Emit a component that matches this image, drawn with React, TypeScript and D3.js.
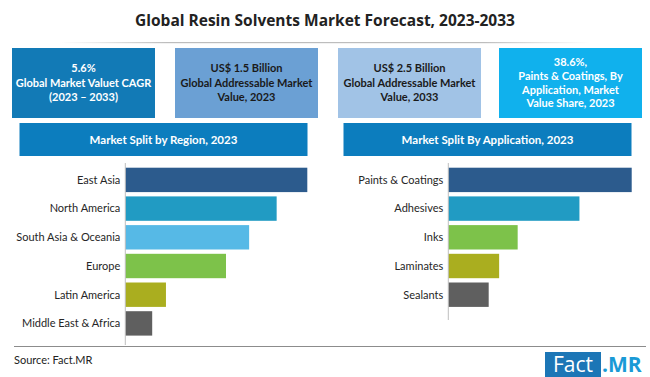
import React from "react";
import * as d3 from "d3";

const regions = ["East Asia", "North America", "South Asia & Oceania", "Europe", "Latin America", "Middle East & Africa"];
const regionValues = [29.1, 24.2, 19.8, 16.1, 6.5, 4.3];
const regionColors = ["#2C5B8D", "#219BC3", "#56B9E6", "#7DC24A", "#AAAE1F", "#5F5F5F"];

const applications = ["Paints & Coatings", "Adhesives", "Inks", "Laminates", "Sealants"];
const applicationValues = [38.6, 27.6, 14.6, 10.7, 8.5];
const applicationColors = ["#2C5B8D", "#219BC3", "#7DC24A", "#AAAE1F", "#5F5F5F"];

const title = "Global Resin Solvents Market Forecast, 2023-2033";
const kpiLines = [
  ["5.6%", "Global Market Valuet CAGR", "(2023 – 2033)"],
  ["US$ 1.5 Billion", "Global Addressable Market", "Value, 2023"],
  ["US$ 2.5 Billion", "Global Addressable Market", "Value, 2033"],
  ["38.6%,", "Paints & Coatings, By", "Application, Market", "Value Share, 2023"],
];
const kpiFill = ["#127AB6", "#6BA0D4", "#A1C3E6", "#10B1ED"];
const kpiText = ["#ffffff", "#1a1a1a", "#1a1a1a", "#ffffff"];
const panelTitles = ["Market Split by Region, 2023", "Market Split By Application, 2023"];

const FONT = "Lato, 'Open Sans', sans-serif";

function BarPanel({ cats, vals, colors, x0, x1, axisBottom }: any) {
  const n = cats.length;
  const step = 28.7;
  const pad = 0.15;
  const top = 163.4;
  const y = d3.scaleBand<string>().domain(cats).range([top, top + step * (n - pad + 2 * pad)]).padding(pad);
  const x = d3.scaleLinear().domain([0, d3.max(vals) as number]).range([x0, x1]);
  return (
    <g>
      {cats.map((c: string, i: number) => (
        <g key={c}>
          <rect x={x(0)} y={y(c)} width={x(vals[i]) - x(0)} height={y.bandwidth()} fill={colors[i]} />
          <text x={x0 - 5} y={(y(c) as number) + y.bandwidth() / 2} dy="0.35em" textAnchor="end" fontSize={11} fill="#262626" fontFamily={FONT}>{c}</text>
        </g>
      ))}
      <line x1={x0} x2={x0} y1={163} y2={axisBottom} stroke="#bfbfbf" strokeWidth={1} />
    </g>
  );
}

export default function App() {
  const boxX = [12, 175, 338, 499];
  const boxW = 143;
  return (
    <svg width={650} height={377} style={{ position: "absolute", left: 0, top: 0, background: "#fff" }}>
      <defs>
        <linearGradient id="sep" x1="0" x2="1" y1="0" y2="0">
          <stop offset="0" stopColor="#c8c8c8" stopOpacity={0} />
          <stop offset="0.2" stopColor="#bdbdbd" />
          <stop offset="0.8" stopColor="#bdbdbd" />
          <stop offset="1" stopColor="#c8c8c8" stopOpacity={0} />
        </linearGradient>
      </defs>
      <rect width={650} height={377} fill="#fff" />
      <text x={325} y={26} textAnchor="middle" fontSize={15.5} fontWeight="bold" fill="#222" fontFamily="'Open Sans', sans-serif">{title}</text>
      <rect x={60} y={42} width={530} height={1.2} fill="url(#sep)" />
      {kpiLines.map((lines, i) => {
        const lh = lines.length > 3 ? 13.7 : 14.5;
        const cy = 83;
        const start = cy - ((lines.length - 1) * lh) / 2;
        return (
          <g key={i}>
            <rect x={boxX[i]} y={48} width={boxW} height={70} fill={kpiFill[i]} />
            {lines.map((l, j) => (
              <text key={j} x={boxX[i] + boxW / 2} y={start + j * lh} dy="0.35em" textAnchor="middle" fontSize={11} fontWeight="bold" fill={kpiText[i]} fontFamily={FONT}>{l}</text>
            ))}
          </g>
        );
      })}
      <rect x={19.5} y={123} width={288} height={33} fill="#0C7DBE" />
      <text x={163.5} y={139.5} dy="0.35em" textAnchor="middle" fontSize={11.5} fontWeight="bold" fill="#fff" fontFamily={FONT}>{panelTitles[0]}</text>
      <rect x={343.5} y={123} width={288} height={33} fill="#0C7DBE" />
      <text x={487.5} y={139.5} dy="0.35em" textAnchor="middle" fontSize={11.5} fontWeight="bold" fill="#fff" fontFamily={FONT}>{panelTitles[1]}</text>
      <BarPanel cats={regions} vals={regionValues} colors={regionColors} x0={125.3} x1={307.3} axisBottom={345} />
      <BarPanel cats={applications} vals={applicationValues} colors={applicationColors} x0={448.3} x1={631.7} axisBottom={320} />
      <line x1={14} x2={646} y1={346.5} y2={346.5} stroke="#8c8c8c" strokeWidth={1} />
      <text x={14} y={364} fontSize={11} fill="#222" fontFamily={FONT}>Source: Fact.MR</text>
      <rect x={545} y={352} width={56} height={25} fill="#1C76B6" />
      <text x={573} y={372} textAnchor="middle" fontSize={21} fill="#fff" fontFamily="'Open Sans', sans-serif">Fact</text>
      <text x={602} y={372} fontSize={21} fontWeight="bold" fill="#1A9AD6" fontFamily="'Open Sans', sans-serif">.MR</text>
    </svg>
  );
}
